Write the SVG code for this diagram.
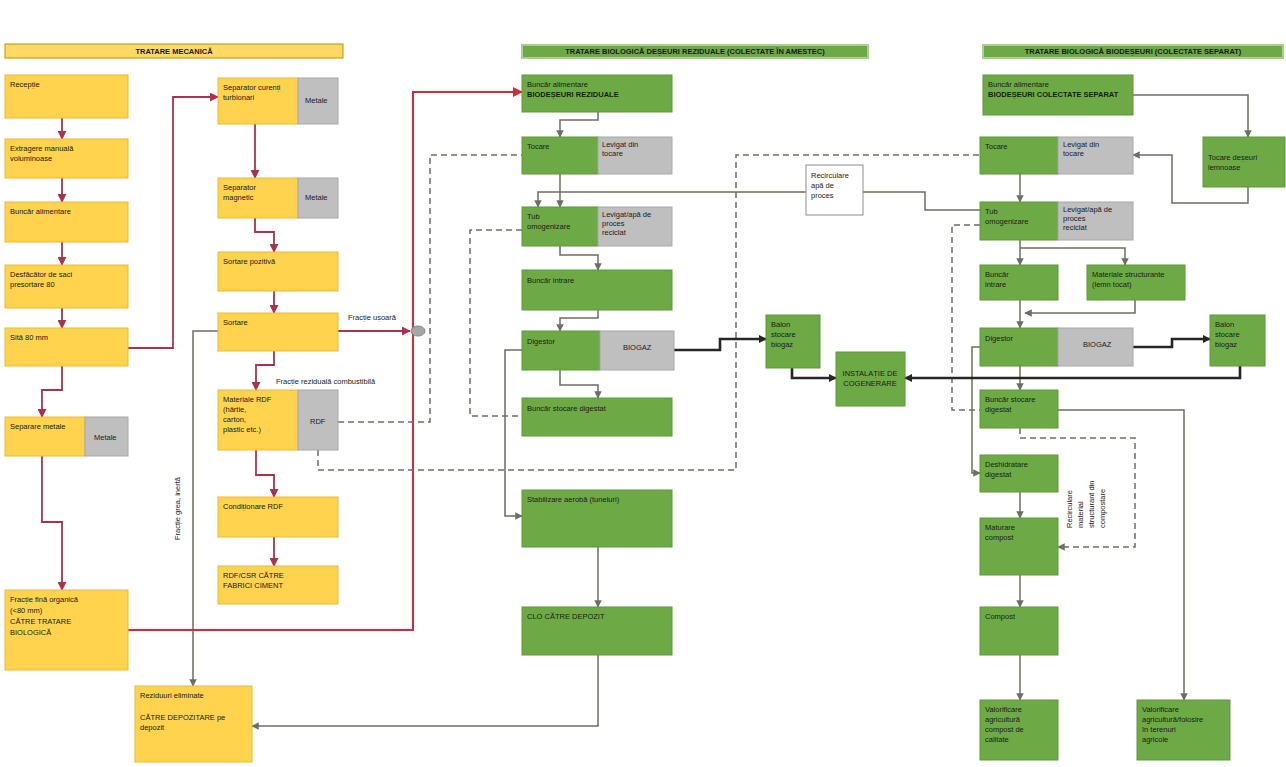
<svg xmlns="http://www.w3.org/2000/svg" width="1286" height="767" viewBox="0 0 1286 767">
<style>
text{font-family:"Liberation Sans",Arial,sans-serif;font-size:7.5px;fill:#1a1a1a}
.t{font-weight:bold;font-size:7.5px;text-anchor:middle}
.y{fill:#FFD34E;stroke:#E8B93A;stroke-width:1}
.gr{fill:#6DAA45;stroke:#5E9A38;stroke-width:1}
.gy{fill:#BFBFBF;stroke:#A8A8A8;stroke-width:1}
.m{fill:none;stroke:#A8344C;stroke-width:1.8}
.r{fill:none;stroke:#D02C3A;stroke-width:2}
.b{fill:none;stroke:#6E6E64;stroke-width:1.5}
.k{fill:none;stroke:#262626;stroke-width:2.6}
.d{fill:none;stroke:#6E6E64;stroke-width:1.5;stroke-dasharray:6 4}
.w{fill:#fff;stroke:#8C8C8C;stroke-width:1}
</style>
<defs>
<marker id="am" viewBox="0 0 10 10" refX="9" refY="5" markerWidth="5" markerHeight="5" orient="auto"><path d="M0,0L10,5L0,10z" fill="#A8344C"/></marker>
<marker id="ar" viewBox="0 0 10 10" refX="9" refY="5" markerWidth="5" markerHeight="5" orient="auto"><path d="M0,0L10,5L0,10z" fill="#D02C3A"/></marker>
<marker id="ab" viewBox="0 0 10 10" refX="9" refY="5" markerWidth="5" markerHeight="5" orient="auto"><path d="M0,0L10,5L0,10z" fill="#6E6E64"/></marker>
<marker id="ak" viewBox="0 0 10 10" refX="9" refY="5" markerWidth="3" markerHeight="3" orient="auto"><path d="M0,0L10,5L0,10z" fill="#262626"/></marker>
</defs>

<g id="titles">
<rect x="5" y="44" width="338" height="14" fill="#FFD966" stroke="#BF9000"/>
<text class="t" x="174" y="54">TRATARE MECANICĂ</text>
<rect x="522" y="45" width="346" height="13" fill="#6DAA45" stroke="#A9D08E" stroke-width="2"/>
<text class="t" x="695" y="54">TRATARE BIOLOGICĂ DEȘEURI REZIDUALE (COLECTATE ÎN AMESTEC)</text>
<rect x="983" y="45" width="300" height="13" fill="#6DAA45" stroke="#A9D08E" stroke-width="2"/>
<text class="t" x="1133" y="54">TRATARE BIOLOGICĂ BIODEȘEURI (COLECTATE SEPARAT)</text>
</g>

<g id="connectors">
<path class="m" marker-end="url(#am)" d="M62,118V139"/>
<path class="m" marker-end="url(#am)" d="M62,178V202"/>
<path class="m" marker-end="url(#am)" d="M62,242V265"/>
<path class="m" marker-end="url(#am)" d="M62,308V328"/>
<path class="m" marker-end="url(#am)" d="M62,366V390H42V417"/>
<path class="m" marker-end="url(#am)" d="M42,456V522H62V590"/>
<path class="m" marker-end="url(#am)" d="M128,348H173V97H218"/>
<path class="m" marker-end="url(#am)" d="M255,124V178"/>
<path class="m" marker-end="url(#am)" d="M255,218V232H274V252"/>
<path class="m" marker-end="url(#am)" d="M274,291V313"/>
<path class="m" marker-end="url(#am)" d="M274,351V365H256V390"/>
<path class="m" marker-end="url(#am)" d="M256,450V475H274V497"/>
<path class="m" marker-end="url(#am)" d="M274,537V566"/>
<path class="b" marker-end="url(#ab)" d="M218,331H193V686"/>
<path class="m" marker-end="url(#am)" d="M338,331H410"/>
<path class="r" marker-end="url(#ar)" d="M128,630H413V92H522"/>
<path class="d" d="M338,422H430V155H522"/>
<path class="d" d="M318,450V470H736V155H980"/>
<path class="d" d="M522,230H470V416H522"/>
<path class="d" d="M980,225H952V410H980"/>
<path class="d" marker-end="url(#ab)" d="M1020,428V438H1135V547H1058"/>
<path class="b" marker-end="url(#ab)" d="M598,112V120H560V137"/>
<path class="b" marker-end="url(#ab)" d="M560,174V207"/>
<path class="b" marker-end="url(#ab)" d="M560,246V255H598V270"/>
<path class="b" marker-end="url(#ab)" d="M598,310V318H560V331"/>
<path class="b" marker-end="url(#ab)" d="M560,370V385H598V398"/>
<path class="b" marker-end="url(#ab)" d="M522,350H505V516H522"/>
<path class="b" marker-end="url(#ab)" d="M598,547V607"/>
<path class="b" marker-end="url(#ab)" d="M598,655V726H252"/>
<path class="b" marker-end="url(#ab)" d="M980,210H925V192H538V207"/>
<path class="b" marker-end="url(#ab)" d="M1133,95H1248V137"/>
<path class="b" marker-end="url(#ab)" d="M1248,187V203H1172V155H1133"/>
<path class="b" marker-end="url(#ab)" d="M1020,174V202"/>
<path class="b" marker-end="url(#ab)" d="M1020,240V265"/>
<path class="b" marker-end="url(#ab)" d="M1020,248H1125V265"/>
<path class="b" marker-end="url(#ab)" d="M1135,300V313H1025"/>
<path class="b" marker-end="url(#ab)" d="M1020,300V328"/>
<path class="b" marker-end="url(#ab)" d="M1020,366V390"/>
<path class="b" marker-end="url(#ab)" d="M980,347H972V473H980"/>
<path class="b" marker-end="url(#ab)" d="M1058,410H1184V700"/>
<path class="b" marker-end="url(#ab)" d="M1020,492V518"/>
<path class="b" marker-end="url(#ab)" d="M1020,575V607"/>
<path class="b" marker-end="url(#ab)" d="M1020,655V700"/>
<path class="k" marker-end="url(#ak)" d="M674,350H720V339H766"/>
<path class="k" marker-end="url(#ak)" d="M792,368V378H836"/>
<path class="k" marker-end="url(#ak)" d="M1133,347H1172V339H1210"/>
<path class="k" marker-end="url(#ak)" d="M1240,366V378H905"/>
<ellipse cx="418" cy="331" rx="7" ry="5" fill="#A6A6A6" stroke="#888"/>
<text x="348" y="320" fill="#23364f">Fracție ușoară</text>
<text x="276" y="384">Fracție reziduală combustibilă</text>
<text transform="translate(180,540) rotate(-90)">Fracție grea, inertă</text>
<text transform="translate(1072,528) rotate(-90)">Recirculare</text>
<text transform="translate(1083,528) rotate(-90)">material</text>
<text transform="translate(1094,528) rotate(-90)">structurant din</text>
<text transform="translate(1105,528) rotate(-90)">compostare</text>
</g>

<g id="n-receptie"><rect class="y" x="5" y="75" width="123" height="43"/><text x="10" y="87">Recepție</text></g>
<g id="n-extragere"><rect class="y" x="5" y="139" width="123" height="39"/><text x="10" y="151">Extragere manuală</text><text x="10" y="161">voluminoase</text></g>
<g id="n-buncar"><rect class="y" x="5" y="202" width="123" height="40"/><text x="10" y="214">Buncăr alimentare</text></g>
<g id="n-desfacator"><rect class="y" x="5" y="265" width="123" height="43"/><text x="10" y="277">Desfăcător de saci</text><text x="10" y="287">presortare 80</text></g>
<g id="n-sita"><rect class="y" x="5" y="328" width="123" height="38"/><text x="10" y="340">Sită 80 mm</text></g>
<g id="n-sepmag"><rect class="y" x="5" y="417" width="80" height="39"/><rect class="gy" x="85" y="417" width="43" height="39"/><text x="10" y="429">Separare metale</text><text x="94" y="440">Metale</text></g>
<g id="n-fina"><rect class="y" x="5" y="590" width="123" height="80"/><text x="10" y="602">Fracție fină organică</text><text x="10" y="613">(&lt;80 mm)</text><text x="10" y="624">CĂTRE TRATARE</text><text x="10" y="635">BIOLOGICĂ</text></g>

<g id="n-turbionar"><rect class="y" x="218" y="78" width="80" height="46"/><rect class="gy" x="298" y="78" width="40" height="46"/><text x="223" y="90">Separator curenți</text><text x="223" y="100">turbionari</text><text x="305" y="103">Metale</text></g>
<g id="n-magnetic"><rect class="y" x="218" y="178" width="80" height="40"/><rect class="gy" x="298" y="178" width="40" height="40"/><text x="223" y="190">Separator</text><text x="223" y="200">magnetic</text><text x="305" y="200">Metale</text></g>
<g id="n-pozitiva"><rect class="y" x="218" y="252" width="120" height="39"/><text x="223" y="264">Sortare pozitivă</text></g>
<g id="n-sortare"><rect class="y" x="218" y="313" width="120" height="38"/><text x="223" y="325">Sortare</text></g>
<g id="n-rdf"><rect class="y" x="218" y="390" width="80" height="60"/><rect class="gy" x="298" y="390" width="40" height="60"/><text x="223" y="402">Materiale RDF</text><text x="223" y="412">(hârtie,</text><text x="223" y="422">carton,</text><text x="223" y="432">plastic etc.)</text><text x="310" y="424">RDF</text></g>
<g id="n-conditionare"><rect class="y" x="218" y="497" width="120" height="40"/><text x="223" y="509">Condiționare RDF</text></g>
<g id="n-ciment"><rect class="y" x="218" y="566" width="120" height="38"/><text x="223" y="578">RDF/CSR CĂTRE</text><text x="223" y="588">FABRICI CIMENT</text></g>
<g id="n-reziduuri"><rect class="y" x="135" y="686" width="117" height="76"/><text x="140" y="698">Reziduuri eliminate</text><text x="140" y="720">CĂTRE DEPOZITARE pe</text><text x="140" y="730">depozit</text></g>

<g id="n-m-buncar"><rect class="gr" x="522" y="75" width="150" height="37"/><text x="527" y="87">Buncăr alimentare</text><text x="527" y="97" font-weight="bold">BIODEȘEURI REZIDUALE</text></g>
<g id="n-m-tocare"><rect class="gr" x="522" y="137" width="76" height="37"/><rect class="gy" x="598" y="137" width="74" height="37"/><text x="527" y="149">Tocare</text><text x="602" y="147">Levigat din</text><text x="602" y="156">tocare</text></g>
<g id="n-m-tub"><rect class="gr" x="522" y="207" width="76" height="39"/><rect class="gy" x="598" y="207" width="74" height="39"/><text x="527" y="219">Tub</text><text x="527" y="229">omogenizare</text><text x="602" y="217">Levigat/apă de</text><text x="602" y="226">proces</text><text x="602" y="235">reciclat</text></g>
<g id="n-m-intrare"><rect class="gr" x="522" y="270" width="150" height="40"/><text x="527" y="283">Buncăr intrare</text></g>
<g id="n-m-digestor"><rect class="gr" x="522" y="331" width="78" height="39"/><rect class="gy" x="600" y="331" width="74" height="39"/><text x="527" y="344">Digestor</text><text x="623" y="350">BIOGAZ</text></g>
<g id="n-m-stocare"><rect class="gr" x="522" y="398" width="150" height="38"/><text x="527" y="411">Buncăr stocare digestat</text></g>
<g id="n-m-stabilizare"><rect class="gr" x="522" y="490" width="150" height="57"/><text x="527" y="502">Stabilizare aerobă (tuneluri)</text></g>
<g id="n-m-clo"><rect class="gr" x="522" y="607" width="150" height="48"/><text x="527" y="619">CLO CĂTRE DEPOZIT</text></g>
<g id="n-recirculare"><rect class="w" x="806" y="165" width="57" height="50"/><text x="811" y="178">Recirculare</text><text x="811" y="188">apă de</text><text x="811" y="198">proces</text></g>
<g id="n-m-balon"><rect class="gr" x="766" y="315" width="54" height="53"/><text x="771" y="327">Balon</text><text x="771" y="337">stocare</text><text x="771" y="347">biogaz</text></g>
<g id="n-cogenerare"><rect class="gr" x="836" y="352" width="69" height="54"/><text x="870" y="376" text-anchor="middle">INSTALAȚIE DE</text><text x="870" y="386" text-anchor="middle">COGENERARE</text></g>

<g id="n-r-buncar"><rect class="gr" x="983" y="75" width="150" height="40"/><text x="988" y="87">Buncăr alimentare</text><text x="988" y="97" font-weight="bold">BIODEȘEURI COLECTATE SEPARAT</text></g>
<g id="n-r-tocare"><rect class="gr" x="980" y="137" width="78" height="37"/><rect class="gy" x="1058" y="137" width="75" height="37"/><text x="985" y="149">Tocare</text><text x="1063" y="147">Levigat din</text><text x="1063" y="156">tocare</text></g>
<g id="n-r-lemn"><rect class="gr" x="1203" y="137" width="82" height="50"/><text x="1208" y="160">Tocare deșeuri</text><text x="1208" y="170">lemnoase</text></g>
<g id="n-r-tub"><rect class="gr" x="980" y="202" width="78" height="38"/><rect class="gy" x="1058" y="202" width="75" height="38"/><text x="985" y="214">Tub</text><text x="985" y="224">omogenizare</text><text x="1063" y="212">Levigat/apă de</text><text x="1063" y="221">proces</text><text x="1063" y="230">reciclat</text></g>
<g id="n-r-intrare"><rect class="gr" x="980" y="265" width="78" height="35"/><text x="985" y="277">Buncăr</text><text x="985" y="287">intrare</text></g>
<g id="n-r-structurant"><rect class="gr" x="1087" y="265" width="98" height="35"/><text x="1092" y="277">Materiale structurante</text><text x="1092" y="287">(lemn tocat)</text></g>
<g id="n-r-digestor"><rect class="gr" x="980" y="328" width="78" height="38"/><rect class="gy" x="1058" y="328" width="75" height="38"/><text x="985" y="341">Digestor</text><text x="1083" y="347">BIOGAZ</text></g>
<g id="n-r-balon"><rect class="gr" x="1210" y="315" width="55" height="51"/><text x="1215" y="327">Balon</text><text x="1215" y="337">stocare</text><text x="1215" y="347">biogaz</text></g>
<g id="n-r-stocare"><rect class="gr" x="980" y="390" width="78" height="38"/><text x="985" y="402">Buncăr stocare</text><text x="985" y="412">digestat</text></g>
<g id="n-r-deshidratare"><rect class="gr" x="980" y="455" width="78" height="37"/><text x="985" y="467">Deshidratare</text><text x="985" y="477">digestat</text></g>
<g id="n-r-maturare"><rect class="gr" x="980" y="518" width="78" height="57"/><text x="985" y="530">Maturare</text><text x="985" y="540">compost</text></g>
<g id="n-r-compost"><rect class="gr" x="980" y="607" width="78" height="48"/><text x="985" y="619">Compost</text></g>
<g id="n-r-val1"><rect class="gr" x="980" y="700" width="78" height="60"/><text x="985" y="712">Valorificare</text><text x="985" y="722">agricultură</text><text x="985" y="732">compost de</text><text x="985" y="742">calitate</text></g>
<g id="n-r-val2"><rect class="gr" x="1137" y="700" width="93" height="60"/><text x="1142" y="712">Valorificare</text><text x="1142" y="722">agricultură/folosire</text><text x="1142" y="732">în terenuri</text><text x="1142" y="742">agricole</text></g>
</svg>
